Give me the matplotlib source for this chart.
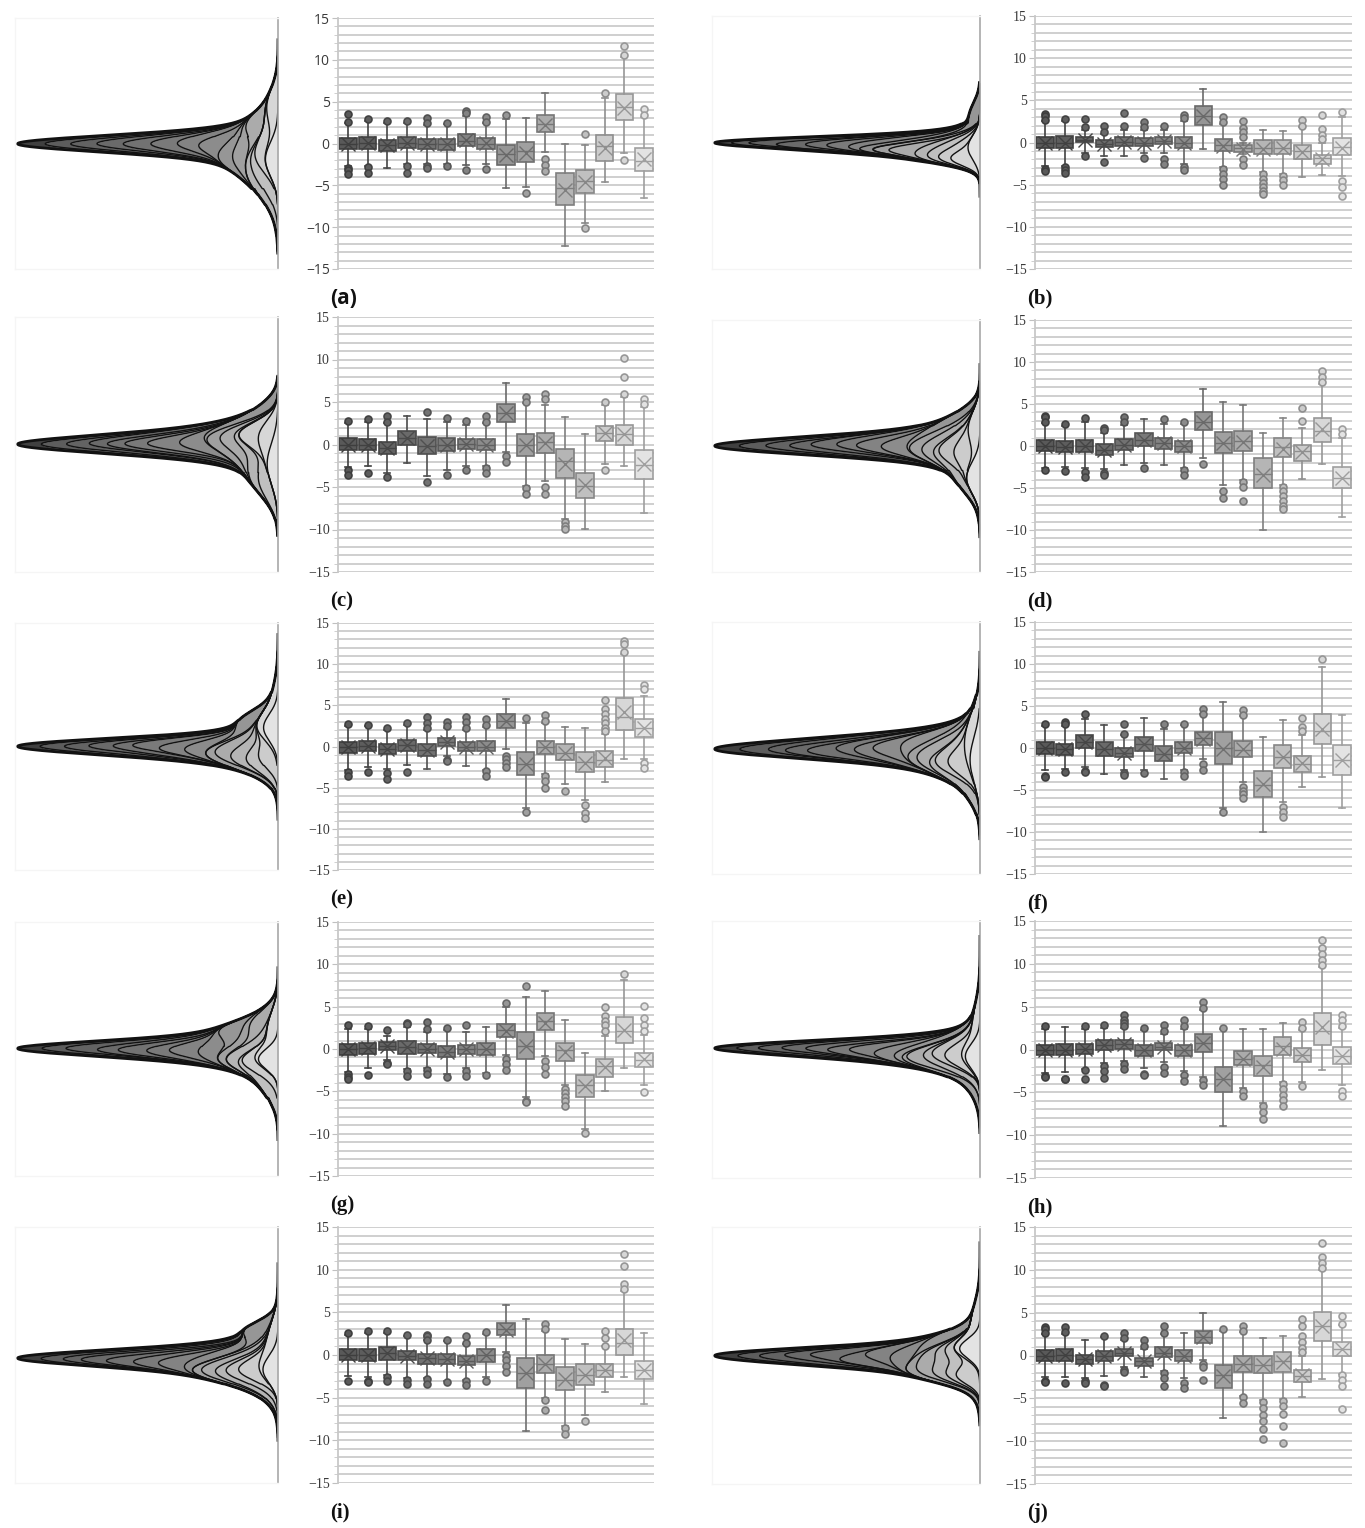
import numpy as np
import matplotlib
matplotlib.use("Agg")
import matplotlib.pyplot as plt

# box statistics per panel: (whisker low, q1, median, q3, whisker high, mean)
a_stats = [(-2.7, -0.6, 0.0, 0.65, 2.5, 0.0), (-2.7, -0.6, 0.1, 0.75, 2.7, 0.05),
           (-2.9, -0.85, -0.2, 0.45, 2.4, -0.2), (-2.5, -0.55, 0.05, 0.75, 2.5, 0.1),
           (-2.5, -0.7, -0.1, 0.55, 2.2, -0.1), (-2.5, -0.75, -0.1, 0.55, 2.3, -0.1),
           (-2.6, -0.3, 0.35, 1.15, 3.3, 0.4), (-2.4, -0.6, 0.0, 0.7, 2.4, 0.05),
           (-5.3, -2.6, -1.3, -0.2, 2.9, -1.4), (-5.2, -2.2, -0.9, 0.15, 3.1, -1.1),
           (-1.0, 1.4, 2.3, 3.4, 6.0, 2.2), (-12.3, -7.4, -5.3, -3.5, 0.0, -5.5),
           (-9.5, -5.9, -4.5, -3.15, -0.2, -4.6), (-4.6, -2.1, -0.25, 1.0, 5.4, -0.5),
           (-1.1, 2.8, 4.4, 5.9, 10.3, 4.3), (-6.5, -3.3, -2.1, -0.55, 3.2, -1.9)]
a_out = [[3.5, 2.6, -2.9, -3.2, -3.6], [2.9, -2.8, -3.5], [2.7], [2.7, -2.7, -3.5],
         [3.0, 2.4, -2.7, -2.9], [2.5, -2.7], [3.9, 3.7, -3.2], [3.2, 2.6, -3.0],
         [3.4], [-5.9], [-1.9, -2.6, -3.3], [], [1.1, -10.1], [6.0],
         [11.6, 10.6, -2.0], [4.1, 3.4]]

b_stats = [(-2.8, -0.67, 0.0, 0.7, 2.6, 0.0), (-2.8, -0.6, 0.0, 0.75, 2.6, 0.0),
           (-1.3, 0.1, 0.3, 0.7, 1.5, 0.25), (-1.6, -0.5, -0.2, 0.3, 1.0, -0.2),
           (-1.6, -0.4, 0.1, 0.6, 1.5, 0.05), (-1.3, -0.4, 0.0, 0.5, 1.5, 0.0),
           (-1.2, -0.15, 0.2, 0.65, 1.5, 0.2), (-2.6, -0.7, 0.0, 0.7, 2.6, -0.05),
           (-0.8, 2.1, 3.1, 4.3, 6.3, 3.1), (-2.9, -0.95, -0.3, 0.4, 2.2, -0.4),
           (-1.4, -1.1, -0.7, -0.3, 0.0, -0.75), (-3.5, -1.35, -0.6, 0.3, 1.5, -0.75),
           (-3.7, -1.35, -0.6, 0.25, 1.4, -0.7), (-4.1, -2.0, -1.0, -0.35, 1.8, -1.1),
           (-3.9, -2.55, -1.8, -1.45, 0.0, -2.0), (-4.0, -1.45, -0.5, 0.5, 3.0, -0.6)]
b_out = [[3.4, 3.2, 2.7, -3.2, -3.4], [2.8, -2.9, -3.3, -3.6], [2.8, 1.8, -1.6],
         [2.0, 1.3, -2.3], [3.5, 1.9], [2.4, 1.8, -1.8], [1.9, -1.9, -2.6],
         [3.3, 2.9, -2.9, -3.3], [], [3.0, 2.4, -3.2, -3.7, -4.3, -5.0],
         [2.5, 1.7, 1.3, 0.7, -2.0, -2.7], [-3.7, -4.3, -4.8, -5.3, -5.7, -6.1],
         [-4.0, -4.5, -5.0], [2.7, 2.0], [3.3, 1.6, 0.9, 0.4], [3.6, -4.6, -5.3, -6.3]]

c_stats = [(-2.6, -0.7, 0.0, 0.8, 2.5, 0.0), (-2.5, -0.7, -0.1, 0.7, 2.6, -0.1),
           (-3.3, -1.1, -0.4, 0.3, 2.5, -0.4), (-2.2, -0.1, 0.8, 1.6, 3.3, 0.8),
           (-3.7, -1.1, -0.2, 0.9, 3.0, -0.2), (-3.0, -0.8, -0.05, 0.75, 2.6, -0.1),
           (-2.5, -0.5, 0.05, 0.6, 2.3, 0.05), (-2.5, -0.6, 0.0, 0.7, 2.5, 0.0),
           (-0.9, 2.6, 3.7, 4.75, 7.2, 3.7), (-4.9, -1.35, -0.1, 1.2, 4.9, -0.05),
           (-4.3, -0.95, 0.3, 1.4, 4.7, 0.2), (-8.8, -3.9, -1.9, -0.55, 3.2, -2.3),
           (-9.9, -6.3, -4.9, -3.3, 1.2, -4.8), (-2.3, 0.4, 1.3, 2.2, 4.6, 1.3),
           (-2.5, 0.0, 1.2, 2.35, 5.6, 1.2), (-8.0, -4.0, -2.4, -0.7, 4.4, -2.3)]
c_out = [[2.8, -3.0, -3.6], [3.0, -3.3], [3.3, 2.6, -3.8], [], [3.8, -4.4], [3.1, -3.6],
         [2.8, -3.0], [3.3, 2.7, -2.8, -3.3], [-1.4, -2.0], [5.6, 5.0, -5.1, -5.8],
         [6.0, 5.3, -5.0, -5.8], [-9.1, -9.6, -9.9], [], [5.0, -3.0], [10.2, 8.0, 5.9],
         [5.3, 4.8]]

d_stats = [(-2.6, -0.65, 0.0, 0.7, 2.7, 0.0), (-2.5, -0.7, -0.1, 0.55, 2.4, -0.1),
           (-2.6, -0.7, 0.0, 0.7, 2.8, 0.0), (-2.7, -1.05, -0.5, 0.2, 1.5, -0.5),
           (-2.3, -0.5, 0.15, 0.8, 2.5, 0.15), (-2.0, 0.0, 0.7, 1.5, 3.2, 0.7),
           (-2.3, -0.3, 0.3, 1.0, 2.6, 0.3), (-2.6, -0.7, -0.05, 0.6, 2.6, -0.05),
           (-1.4, 1.85, 2.9, 4.0, 6.8, 2.9), (-4.6, -0.85, 0.4, 1.65, 5.2, 0.4),
           (-4.0, -0.65, 0.6, 1.75, 4.9, 0.5), (-10.0, -5.0, -3.3, -1.45, 1.6, -3.4),
           (-4.6, -1.3, -0.1, 0.9, 3.3, -0.3), (-3.9, -1.75, -0.6, 0.15, 2.2, -0.75),
           (-2.1, 0.5, 1.8, 3.35, 7.4, 2.0), (-8.4, -5.0, -3.8, -2.5, 1.0, -3.8)]
d_out = [[3.6, 3.5, 2.9, -2.9], [2.6, -3.0], [3.3, -3.1, -3.7], [2.1, 1.9, -3.2, -3.4],
         [3.4, 2.8], [-2.6], [3.2], [2.9, -2.9, -3.5], [-2.1], [-5.4, -6.2],
         [-4.3, -4.9, -6.5], [], [-4.9, -5.4, -6.0, -6.6, -7.1, -7.5], [4.5, 3.0],
         [8.9, 8.2, 7.6], [2.0, 1.4]]

e_stats = [(-2.9, -0.8, -0.1, 0.6, 2.5, -0.1), (-2.5, -0.6, 0.05, 0.7, 2.5, 0.05),
           (-2.7, -0.9, -0.3, 0.3, 2.0, -0.3), (-2.3, -0.5, 0.15, 0.8, 2.6, 0.15),
           (-2.7, -1.1, -0.4, 0.35, 2.0, -0.4), (-1.2, 0.1, 0.5, 1.0, 2.2, 0.5),
           (-2.4, -0.6, 0.0, 0.6, 2.0, 0.0), (-2.8, -0.6, 0.0, 0.7, 2.4, 0.0),
           (-0.3, 2.2, 3.1, 4.0, 5.8, 3.1), (-7.5, -3.45, -2.1, -0.7, 2.8, -2.1),
           (-3.4, -0.95, -0.1, 0.7, 2.9, -0.1), (-4.6, -1.7, -0.8, 0.25, 2.4, -0.8),
           (-6.5, -3.05, -1.9, -0.7, 2.3, -2.0), (-4.3, -2.5, -1.7, -0.6, 1.5, -1.4),
           (-1.5, 2.0, 3.6, 5.9, 11.2, 4.2), (-1.5, 1.2, 2.3, 3.4, 6.1, 2.3)]
e_out = [[2.7, -3.1, -3.6], [2.6, -3.1], [2.3, -3.2, -4.0], [2.9, -3.1], [3.6, 2.9, 2.3],
         [3.0, 2.5, -1.6, -1.8], [3.6, 3.0, 2.3], [3.3, 2.6, -3.0, -3.6],
         [-1.1, -1.5, -2.0, -2.5], [3.5, -8.0], [3.8, 3.1, -3.6, -4.2, -5.1], [-5.4],
         [-7.1, -8.1, -8.7], [5.7, 4.5, 4.0, 3.4, 2.8, 2.3, 1.9], [12.8, 12.4, 11.5],
         [7.5, 7.0, -2.0, -2.6]]

f_stats = [(-2.6, -0.7, 0.0, 0.7, 2.6, 0.0), (-2.5, -0.8, -0.1, 0.45, 2.6, -0.1),
           (-2.3, 0.0, 0.7, 1.5, 3.4, 0.7), (-3.1, -0.9, -0.1, 0.7, 2.7, -0.1),
           (-2.6, -1.1, -0.6, 0.0, 1.5, -0.6), (-2.6, -0.4, 0.5, 1.35, 3.6, 0.5),
           (-3.7, -1.5, -0.7, 0.2, 2.3, -0.7), (-2.6, -0.6, 0.0, 0.7, 2.7, 0.0),
           (-1.3, 0.4, 1.2, 1.9, 4.0, 1.1), (-7.2, -1.85, 0.0, 1.85, 5.5, -0.1),
           (-4.0, -1.1, -0.2, 0.85, 3.8, -0.15), (-10.0, -5.8, -4.4, -2.75, 1.3, -4.3),
           (-6.4, -2.35, -1.1, 0.4, 3.3, -1.1), (-4.6, -2.8, -1.9, -0.9, 1.5, -1.8),
           (-3.5, 0.45, 2.0, 4.1, 9.7, 2.3), (-7.1, -3.2, -1.4, 0.4, 3.9, -1.4)]
f_out = [[2.8, -3.3, -3.4], [3.1, 2.9, -2.9], [4.0, -2.7, -2.9], [], [2.8, 1.7, -3.0, -3.2],
         [-3.0], [2.9], [2.8, -2.9, -3.3], [4.7, 4.1, -1.9, -2.6], [-7.6],
         [4.5, 3.9, -4.6, -5.1, -5.5, -5.9], [], [-7.0, -7.6, -8.2], [3.6, 2.5, 2.0],
         [10.6], []]

g_stats = [(-2.7, -0.7, -0.05, 0.6, 2.4, -0.05), (-2.3, -0.6, 0.1, 0.75, 2.4, 0.1),
           (-1.3, -0.1, 0.35, 0.8, 1.5, 0.35), (-2.4, -0.6, 0.2, 0.9, 2.6, 0.2),
           (-2.2, -0.5, 0.05, 0.6, 2.0, 0.05), (-3.0, -1.0, -0.35, 0.4, 2.3, -0.35),
           (-2.3, -0.6, -0.05, 0.5, 2.0, -0.05), (-2.8, -0.7, 0.0, 0.7, 2.6, 0.0),
           (-0.7, 1.45, 2.2, 2.9, 5.0, 2.1), (-5.7, -1.2, 0.4, 2.0, 6.2, 0.3),
           (-0.8, 2.2, 3.3, 4.25, 6.9, 3.1), (-4.3, -1.4, -0.1, 0.75, 3.4, -0.3),
           (-9.4, -5.65, -4.3, -3.05, -0.5, -4.4), (-5.0, -3.35, -2.0, -1.2, 1.5, -2.1),
           (-2.3, 0.75, 2.1, 3.75, 8.2, 2.2), (-4.3, -2.1, -1.3, -0.45, 1.6, -1.2)]
g_out = [[2.8, -2.9, -3.3, -3.5], [2.7, -3.1], [2.2, -1.7, -1.8], [3.1, 3.0, -2.6, -3.2],
         [3.2, 2.4, -2.5, -3.0], [2.5, -3.3], [2.8, -2.6, -3.2], [-3.1],
         [5.4, -1.2, -1.8, -2.5], [7.5, -6.1, -6.3], [-1.4, -2.1, -2.9],
         [-4.7, -5.2, -5.7, -6.2, -6.7], [-9.9], [5.0, 3.9, 3.3, 2.8, 2.1], [8.8],
         [5.1, 3.7, 2.8, 2.1, -5.1]]

h_stats = [(-2.7, -0.7, -0.05, 0.55, 2.4, -0.05), (-2.6, -0.7, 0.0, 0.6, 2.6, 0.0),
           (-2.3, -0.5, 0.1, 0.7, 2.4, 0.1), (-1.6, 0.0, 0.5, 1.1, 2.5, 0.5),
           (-1.4, 0.1, 0.6, 1.1, 2.5, 0.6), (-2.2, -0.8, -0.1, 0.5, 2.3, -0.1),
           (-1.5, -0.1, 0.3, 0.75, 1.8, 0.3), (-2.5, -0.75, -0.1, 0.5, 2.4, -0.1),
           (-3.2, -0.3, 0.8, 1.8, 4.6, 0.8), (-8.9, -5.0, -3.5, -2.1, 2.4, -3.5),
           (-4.5, -1.85, -1.1, -0.2, 2.4, -1.1), (-6.3, -3.05, -1.8, -0.8, 2.4, -2.0),
           (-3.8, -0.6, 0.4, 1.45, 3.1, 0.1), (-3.8, -1.5, -0.7, 0.2, 2.3, -0.7),
           (-2.4, 0.55, 2.2, 4.3, 9.6, 2.6), (-4.1, -1.7, -0.8, 0.25, 2.5, -0.8)]
h_out = [[2.7, -3.1, -3.2], [-3.4, -3.5], [2.7, -2.4, -3.4], [2.9, -1.9, -2.5, -3.3],
         [4.0, 3.5, 3.1, 2.7, -1.7, -2.3], [2.5, -2.9, -3.0], [2.9, 2.2, -2.0, -2.8],
         [3.4, 2.7, -3.0, -3.7], [5.6, 4.8, -3.6, -4.2], [2.5], [-4.8, -5.4],
         [-6.6, -7.3, -8.1], [-4.0, -4.6, -5.3, -5.9, -6.6], [3.2, 2.5, -4.3],
         [12.8, 11.8, 11.1, 10.5, 9.9], [4.0, 3.4, 2.8, -4.9, -5.4]]

i_stats = [(-2.5, -0.6, 0.0, 0.65, 2.4, 0.0), (-2.6, -0.7, -0.05, 0.65, 2.6, -0.05),
           (-2.4, -0.55, 0.2, 0.9, 2.6, 0.2), (-2.7, -0.6, -0.1, 0.45, 2.2, -0.1),
           (-2.7, -1.0, -0.4, 0.1, 1.7, -0.4), (-3.0, -1.1, -0.5, 0.1, 1.6, -0.5),
           (-2.9, -1.2, -0.7, -0.1, 1.3, -0.7), (-2.6, -0.8, -0.05, 0.65, 2.5, -0.05),
           (0.3, 2.35, 3.0, 3.8, 5.9, 2.9), (-8.9, -3.9, -2.1, -0.4, 4.2, -2.1),
           (-5.0, -2.1, -1.1, 0.0, 2.8, -1.1), (-8.3, -4.1, -2.9, -1.4, 1.9, -2.8),
           (-7.0, -3.5, -2.3, -1.1, 1.3, -2.4), (-4.3, -2.55, -1.8, -1.0, 1.0, -1.8),
           (-2.6, -0.05, 1.4, 3.1, 7.5, 1.7), (-5.8, -2.85, -1.8, -0.7, 2.6, -1.7)]
i_out = [[2.6, -3.0], [2.8, -3.1, -3.2], [2.8, -2.6, -3.1], [2.4, -2.9, -3.4],
         [2.4, 2.2, 1.8, -2.8, -3.4], [1.8, -3.2], [2.2, 1.4, -3.0, -3.5], [2.7, -3.1],
         [-0.1, -0.6, -1.3, -2.0], [], [3.6, 3.0, -5.3, -6.4], [-8.6, -9.2], [-7.7],
         [2.8, 2.0, 1.1], [11.8, 10.4, 8.3, 7.7], []]

j_stats = [(-2.5, -0.65, 0.0, 0.7, 2.5, 0.0), (-2.5, -0.65, 0.05, 0.8, 2.5, 0.05),
           (-2.6, -1.0, -0.4, 0.1, 1.8, -0.4), (-2.4, -0.7, -0.1, 0.5, 2.2, -0.1),
           (-1.3, 0.0, 0.35, 0.75, 1.8, 0.35), (-2.5, -1.2, -0.7, -0.3, 0.8, -0.7),
           (-1.8, -0.2, 0.35, 0.95, 2.5, 0.35), (-2.6, -0.7, 0.0, 0.7, 2.6, 0.0),
           (-0.5, 1.45, 2.2, 2.9, 5.0, 2.2), (-7.3, -3.8, -2.3, -1.1, 2.9, -2.4),
           (-4.7, -1.95, -1.0, -0.1, 2.8, -1.0), (-5.2, -2.1, -1.1, 0.0, 2.0, -1.1),
           (-5.1, -1.95, -0.7, 0.45, 2.3, -0.8), (-4.8, -3.1, -2.4, -1.7, -0.1, -2.3),
           (-2.8, 1.7, 3.4, 5.1, 10.0, 3.5), (-2.2, 0.0, 0.8, 1.55, 3.6, 0.8)]
j_out = [[3.3, 3.1, 2.6, -3.0, -3.1], [3.3, 2.7, -3.2], [-3.0, -3.2], [2.3, -3.4, -3.6],
         [2.6, 2.1, -1.7, -1.9], [1.8, 1.1], [3.4, 2.6, -2.0, -2.6, -3.6], [-3.2, -3.8],
         [-1.0, -1.4, -2.9], [3.1], [3.5, 2.9, -4.9, -5.6],
         [-5.4, -6.1, -7.0, -7.6, -8.6, -9.8], [-5.3, -5.9, -6.8, -8.2, -10.2],
         [4.3, 3.4, 2.3, 1.6, 0.9, 0.4], [13.1, 11.5, 10.8, 10.2],
         [4.6, 3.7, -2.3, -2.9, -3.6, -6.3]]

panel_labels = ["(a)", "(b)", "(c)", "(d)", "(e)", "(f)", "(g)", "(h)", "(i)", "(j)"]
panel_stats = [a_stats, b_stats, c_stats, d_stats, e_stats, f_stats, g_stats, h_stats, i_stats, j_stats]
panel_out = [a_out, b_out, c_out, d_out, e_out, f_out, g_out, h_out, i_out, j_out]

W, H = 1365, 1528
fig = plt.figure(figsize=(W / 100, H / 100), dpi=100)


def px_axes(x0, y0, x1, y1):
    return fig.add_axes([x0 / W, 1 - y1 / H, (x1 - x0) / W, (y1 - y0) / H])


# grey ramp, dark -> light
n = 16
t = np.linspace(0, 1, n) ** 1.3
greys = 0.35 + 0.54 * t
fills = [(g, g, g) for g in greys]
edges = [(g * 0.7, g * 0.7, g * 0.7) for g in greys]

# pixel geometry: (top of y=15, bottom of y=-15) per row
rows_left = [(18, 269), (317, 572), (623, 870), (922, 1176), (1227, 1483)]
rows_right = [(16, 269), (320, 572), (622, 874), (921, 1178), (1227, 1484)]


def draw_density(ax, stats, outs):
    y = np.linspace(-15, 15, 1500)
    pdfs = []
    for (lo, q1, md, q3, hi, mn), fl in zip(stats, outs):
        sd = max((q3 - q1) / 1.349, 0.3)
        ymin = min([lo] + fl) - 0.8
        ymax = max([hi] + fl) + 0.8
        p = np.exp(-0.5 * ((y - mn) / sd) ** 2) / (sd * np.sqrt(2 * np.pi))
        pdfs.append(np.where((y >= ymin) & (y <= ymax), p, 0.0))
    pdfs = np.array(pdfs)
    # stack from the last (lightest, next to baseline) to the first (darkest, outside)
    cum = np.cumsum(pdfs[::-1], axis=0)[::-1]
    cum = np.vstack([cum, np.zeros_like(y)])
    for k in range(n):
        ax.fill_betweenx(y, -cum[k], -cum[k + 1], color=fills[k] if k > 0 else (0.25,) * 3, lw=0)
    inside = cum[0] > 1e-4
    for k in range(n):
        c = np.where(inside, -cum[k], np.nan)
        ax.plot(c, y, color="#121212", lw=2.0 if k == 0 else 1.0)
    ax.set_xlim(-cum[0].max() * 1.01, 0)
    ax.set_ylim(-15, 15)
    ax.set_xticks([])
    ax.set_yticks([])
    for s in ["top", "left", "bottom"]:
        ax.spines[s].set_color("#f5f5f5")
        ax.spines[s].set_linewidth(1.0)
    ax.spines["right"].set_color("#a8a8a8")
    ax.spines["right"].set_linewidth(1.2)


def draw_boxes(ax, stats, outs, family):
    bs = []
    for (lo, q1, md, q3, hi, mn), fl in zip(stats, outs):
        bs.append(dict(whislo=lo, q1=q1, med=md, q3=q3, whishi=hi, mean=mn, fliers=fl))
    art = ax.bxp(bs, range(1, n + 1), widths=0.88, patch_artist=True, showmeans=True,
                 capwidths=0.3, manage_ticks=False)
    for k in range(n):
        art["boxes"][k].set_facecolor(fills[k])
        art["boxes"][k].set_edgecolor(edges[k])
        art["boxes"][k].set_linewidth(1.2)
        for ln in art["whiskers"][2 * k:2 * k + 2] + art["caps"][2 * k:2 * k + 2]:
            ln.set_color(edges[k])
            ln.set_linewidth(1.2)
        art["medians"][k].set_color(edges[k])
        art["medians"][k].set_linewidth(1.0)
        m = art["means"][k]
        m.set_marker("x")
        m.set_markersize(10.5)
        m.set_markeredgecolor(edges[k])
        m.set_markeredgewidth(1.0)
        f = art["fliers"][k]
        f.set_marker("o")
        f.set_markersize(5)
        f.set_markerfacecolor(fills[k])
        f.set_markeredgecolor(edges[k])
        f.set_markeredgewidth(1.2)

    ax.set_xlim(0.5, n + 0.5)
    ax.set_ylim(-15, 15)
    ax.set_yticks(range(-15, 16, 5))
    ax.set_yticks(range(-15, 16), minor=True)
    ax.grid(True, axis="y", which="both", color="#cccccc", lw=1.3)
    ax.set_axisbelow(True)
    ax.set_xticks([])
    for s in ["top", "right", "bottom"]:
        ax.spines[s].set_visible(False)
    ax.spines["left"].set_color("#c8c8c8")
    ax.spines["left"].set_linewidth(1.3)
    ax.tick_params(axis="y", which="major", length=4, color="#c0c0c0", labelsize=10,
                   labelcolor="#3a3a3a", pad=2)
    ax.tick_params(axis="y", which="minor", length=3, color="#c8c8c8")
    for lb in ax.get_yticklabels():
        lb.set_family(family)


for idx in range(10):
    col = idx % 2
    top, bot = (rows_left if col == 0 else rows_right)[idx // 2]
    if col == 0:
        dens = px_axes(15, top, 278, bot)
        box = px_axes(338, top, 654, bot)
        lx = 330
    else:
        dens = px_axes(712, top, 980, bot)
        box = px_axes(1035, top, 1352, bot)
        lx = 1027
    family = "Open Sans" if idx == 0 else "Liberation Serif"
    draw_density(dens, panel_stats[idx], panel_out[idx])
    draw_boxes(box, panel_stats[idx], panel_out[idx], family)
    fig.text(lx / W, 1 - (bot + 29) / H, panel_labels[idx], ha="left", va="center",
             fontsize=15, fontweight="bold", family=family, color="#111111")

fig.savefig("out.png", dpi=100, facecolor="white")
